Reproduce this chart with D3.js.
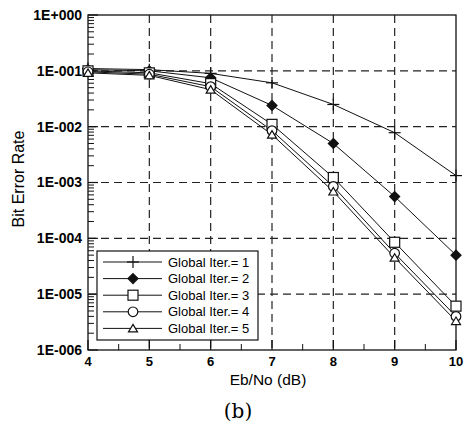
<!DOCTYPE html>
<html lang="en">
<head>
    <meta charset="UTF-8">
    <title>Bit Error Rate vs Eb/No</title>
    <script src="https://d3js.org/d3.v7.min.js"></script>
    <style>
        body {
            margin: 0;
            padding: 0;
            background-color: #fff;
        }
        svg {
            display: block;
        }
    </style>
</head>
<body>
    <svg id="chart" width="465" height="424"></svg>

    <script>
        // Data
        const ebno = [4, 5, 6, 7, 8, 9, 10];
        const iter1 = [1.1e-1, 1.05e-1, 9.0e-2, 6.1e-2, 2.5e-2, 7.8e-3, 1.33e-3];
        const iter2 = [1.05e-1, 1.0e-1, 7.5e-2, 2.4e-2, 5.0e-3, 5.6e-4, 5.0e-5];
        const iter3 = [1.0e-1, 9.2e-2, 5.9e-2, 1.1e-2, 1.23e-3, 8.5e-5, 6.1e-6];
        const iter4 = [9.6e-2, 8.7e-2, 5.2e-2, 8.5e-3, 8.5e-4, 5.4e-5, 4.0e-6];
        const iter5 = [9.2e-2, 8.3e-2, 4.6e-2, 7.2e-3, 6.9e-4, 4.5e-5, 3.3e-6];
        const seriesNames = ["Global Iter.= 1", "Global Iter.= 2", "Global Iter.= 3", "Global Iter.= 4", "Global Iter.= 5"];
        const markerTypes = ["plus", "diamond", "square", "circle", "triangle"];
        const yTickLabels = ["1E+000", "1E-001", "1E-002", "1E-003", "1E-004", "1E-005", "1E-006"];
        const yTickValues = [1, 1e-1, 1e-2, 1e-3, 1e-4, 1e-5, 1e-6];

        const allSeries = [iter1, iter2, iter3, iter4, iter5];

        const svg = d3.select("#chart");
        const plotLeft = 88, plotRight = 456, plotTop = 15, plotBottom = 350;

        const x = d3.scaleLinear().domain([4, 10]).range([plotLeft, plotRight]);
        const y = d3.scaleLog().domain([1e-6, 1]).range([plotBottom, plotTop]);

        const font = "Arial, 'Liberation Sans', sans-serif";

        // Grid (dashed)
        const grid = svg.append("g").attr("stroke", "#222").attr("stroke-width", 1.2)
            .attr("stroke-dasharray", "8,5").attr("fill", "none");
        grid.selectAll("line.v")
            .data(d3.range(5, 10))
            .enter().append("line")
            .attr("class", "v")
            .attr("x1", d => x(d)).attr("x2", d => x(d))
            .attr("y1", plotTop).attr("y2", plotBottom);
        grid.selectAll("line.h")
            .data(yTickValues.slice(1, 6))
            .enter().append("line")
            .attr("class", "h")
            .attr("x1", plotLeft).attr("x2", plotRight)
            .attr("y1", d => y(d)).attr("y2", d => y(d));

        // Frame
        svg.append("rect")
            .attr("x", plotLeft).attr("y", plotTop)
            .attr("width", plotRight - plotLeft).attr("height", plotBottom - plotTop)
            .attr("fill", "none").attr("stroke", "#111").attr("stroke-width", 1.3);

        // Y minor ticks (log), inward from the left edge
        const yMinor = [];
        for (let e = -6; e < 0; e++) {
            for (let m = 2; m <= 9; m++) yMinor.push(m * Math.pow(10, e));
        }
        svg.append("g").selectAll("line")
            .data(yMinor)
            .enter().append("line")
            .attr("x1", plotLeft).attr("x2", plotLeft + 6)
            .attr("y1", d => y(d)).attr("y2", d => y(d))
            .attr("stroke", "#111").attr("stroke-width", 1);
        svg.append("g").selectAll("line")
            .data(yTickValues)
            .enter().append("line")
            .attr("x1", plotLeft).attr("x2", plotLeft + 10)
            .attr("y1", d => y(d)).attr("y2", d => y(d))
            .attr("stroke", "#111").attr("stroke-width", 1.2);

        // X ticks, inward from the bottom edge
        svg.append("g").selectAll("line")
            .data(d3.range(4.5, 10, 1))
            .enter().append("line")
            .attr("x1", d => x(d)).attr("x2", d => x(d))
            .attr("y1", plotBottom).attr("y2", plotBottom - 6)
            .attr("stroke", "#111").attr("stroke-width", 1);
        svg.append("g").selectAll("line")
            .data(d3.range(4, 11))
            .enter().append("line")
            .attr("x1", d => x(d)).attr("x2", d => x(d))
            .attr("y1", plotBottom).attr("y2", plotBottom - 10)
            .attr("stroke", "#111").attr("stroke-width", 1.2);

        // Tick labels
        svg.append("g").selectAll("text")
            .data(yTickValues)
            .enter().append("text")
            .attr("x", plotLeft - 6)
            .attr("y", d => y(d))
            .attr("dy", "0.35em")
            .attr("text-anchor", "end")
            .attr("font-family", font).attr("font-weight", "bold").attr("font-size", "14px")
            .text((d, i) => yTickLabels[i]);
        svg.append("g").selectAll("text")
            .data(ebno)
            .enter().append("text")
            .attr("x", d => x(d))
            .attr("y", 366)
            .attr("text-anchor", "middle")
            .attr("font-family", font).attr("font-weight", "bold").attr("font-size", "13px")
            .text(d => d);

        // Axis titles
        svg.append("text")
            .attr("x", 268).attr("y", 385)
            .attr("text-anchor", "middle")
            .attr("font-family", font).attr("font-size", "15.5px")
            .text("Eb/No (dB)");
        svg.append("text")
            .attr("transform", "translate(24,179) rotate(-90)")
            .attr("text-anchor", "middle")
            .attr("font-family", font).attr("font-size", "16px")
            .text("Bit Error Rate");
        svg.append("text")
            .attr("x", 238).attr("y", 418)
            .attr("text-anchor", "middle")
            .attr("font-family", "'DejaVu Serif', 'Liberation Serif', serif").attr("font-size", "20px")
            .text("(b)");

        // Marker drawing
        const drawMarker = (g, type, cx, cy) => {
            const s = g.append("g").attr("transform", `translate(${cx},${cy})`)
                .attr("stroke", "#111").attr("stroke-width", 1.2);
            if (type === "plus") {
                s.append("line").attr("x1", -6).attr("x2", 6).attr("y1", 0).attr("y2", 0);
                s.append("line").attr("x1", 0).attr("x2", 0).attr("y1", -6).attr("y2", 6);
            } else if (type === "diamond") {
                s.append("path").attr("d", "M0,-5L5,0L0,5L-5,0Z").attr("fill", "#111");
            } else if (type === "square") {
                s.append("rect").attr("x", -5).attr("y", -5).attr("width", 10).attr("height", 10).attr("fill", "#fff");
            } else if (type === "circle") {
                s.append("circle").attr("r", 4.8).attr("fill", "#fff");
            } else {
                s.append("path").attr("d", "M0,-4L4.5,3.5L-4.5,3.5Z").attr("fill", "#fff");
            }
        };

        const line = d3.line()
            .x((d, i) => x(ebno[i]))
            .y(d => y(d));

        const plot = svg.append("g");
        allSeries.forEach((vals) => {
            plot.append("path")
                .datum(vals)
                .attr("d", line)
                .attr("fill", "none")
                .attr("stroke", "#111")
                .attr("stroke-width", 1);
        });
        allSeries.forEach((vals, si) => {
            vals.forEach((v, i) => drawMarker(plot, markerTypes[si], x(ebno[i]), y(v)));
        });

        // Legend
        const legend = svg.append("g");
        legend.append("rect")
            .attr("x", 97).attr("y", 251)
            .attr("width", 161).attr("height", 89)
            .attr("fill", "#fff").attr("stroke", "#111").attr("stroke-width", 1.2);
        seriesNames.forEach((name, i) => {
            const ly = 262 + i * 16.6;
            legend.append("line")
                .attr("x1", 103).attr("x2", 162)
                .attr("y1", ly).attr("y2", ly)
                .attr("stroke", "#111").attr("stroke-width", 1);
            drawMarker(legend, markerTypes[i], 133, ly);
            legend.append("text")
                .attr("x", 168).attr("y", ly)
                .attr("dy", "0.35em")
                .attr("font-family", font).attr("font-size", "13px")
                .text(name);
        });
    </script>
</body>
</html>
